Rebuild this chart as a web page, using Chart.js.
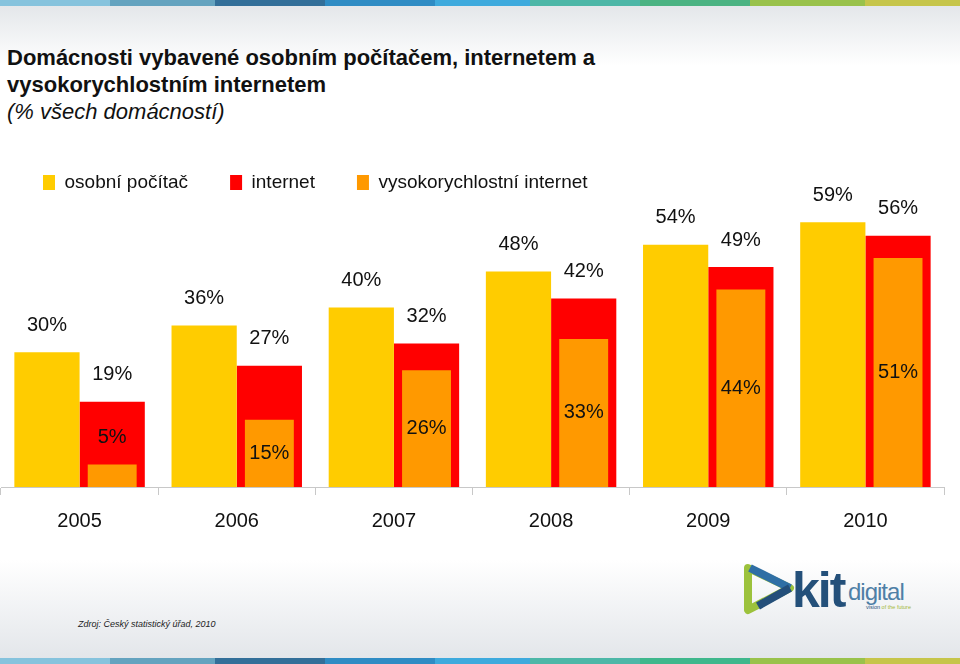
<!DOCTYPE html>
<html>
<head>
<meta charset="utf-8">
<script src="https://cdn.jsdelivr.net/npm/chart.js@4.4.0/dist/chart.umd.min.js"></script>
<style>
  html, body { margin: 0; padding: 0; }
  body { width: 960px; height: 664px; position: relative; overflow: hidden; background: #fff;
         font-family: "Liberation Sans", Arial, sans-serif; }
  .stripe { position: absolute; left: 0; width: 960px; height: 6px; display: flex; }
  .stripe div { height: 100%; }
  #topShade { position: absolute; left: 0; top: 6px; width: 960px; height: 60px;
              background: linear-gradient(#e4e7ea, #ffffff); }
  #bottomShade { position: absolute; left: 0; top: 560px; width: 960px; height: 98px;
                 background: linear-gradient(#ffffff, #e3e6ea); }
  #title { position: absolute; left: 7px; top: 44px; color: #111; font-size: 22px; line-height: 27px; }
  #title b { font-weight: bold; }
  #title i { font-style: italic; }
  #chartBox { position: absolute; left: 0; top: 131px; }
  #source { position: absolute; left: 78px; top: 619px; font-size: 9px; font-style: italic; color: #222; }
  #logo { position: absolute; left: 740px; top: 560px; }
</style>
</head>
<body>
<div id="topShade"></div>
<div id="bottomShade"></div>
<div class="stripe" style="top:0">
  <div style="width:110px;background:#86c3dd"></div>
  <div style="width:105px;background:#64a3bf"></div>
  <div style="width:110px;background:#336f99"></div>
  <div style="width:110px;background:#2f8cc4"></div>
  <div style="width:95px;background:#3eaadd"></div>
  <div style="width:110px;background:#4db7a7"></div>
  <div style="width:110px;background:#4bb382"></div>
  <div style="width:115px;background:#99c24b"></div>
  <div style="width:95px;background:#c6c54a"></div>
</div>
<div class="stripe" style="top:658px">
  <div style="width:110px;background:#86c3dd"></div>
  <div style="width:105px;background:#64a3bf"></div>
  <div style="width:110px;background:#336f99"></div>
  <div style="width:110px;background:#2f8cc4"></div>
  <div style="width:95px;background:#3eaadd"></div>
  <div style="width:110px;background:#4db7a7"></div>
  <div style="width:110px;background:#3fb78c"></div>
  <div style="width:115px;background:#99c24b"></div>
  <div style="width:95px;background:#c6c54a"></div>
</div>

<div id="title">
  <b>Domácnosti vybavené osobním počítačem, internetem a<br>vysokorychlostním internetem</b><br>
  <i>(% všech domácností)</i>
</div>

<div id="chartBox"><canvas id="chart" width="960" height="416"></canvas></div>

<div id="source">Zdroj: Český statistický úřad, 2010</div>

<svg id="logo" width="190" height="60" viewBox="0 0 190 60">
  <path d="M8 8 L50 28 L8 50 Z" fill="none" stroke="#9cc23c" stroke-width="8" stroke-linejoin="round"/>
  <path d="M10 8 L50 28" stroke="#2f6fa5" stroke-width="8"/>
  <path d="M50 28 L18 46" stroke="#244f7a" stroke-width="8"/>
  <text x="52" y="47" font-family="Liberation Sans, Arial, sans-serif" font-weight="bold" font-size="50" fill="#24507a" letter-spacing="-2">kit</text>
  <text x="108" y="40" font-family="Liberation Sans, Arial, sans-serif" font-size="24" fill="#4e7fa6" letter-spacing="-1">digital</text>
  <text x="126" y="49" font-family="Liberation Sans, Arial, sans-serif" font-size="5.5" fill="#24507a">vision <tspan fill="#a3b83a">of the future</tspan></text>
</svg>

<script>
const years = ["2005", "2006", "2007", "2008", "2009", "2010"];
const pcValues = [30, 36, 40, 48, 54, 59];
const internetValues = [19, 27, 32, 42, 49, 56];
const broadbandValues = [5, 15, 26, 33, 44, 51];

const seriesNames = ["osobní počítač", "internet", "vysokorychlostní internet"];
const colors = ["#ffcc00", "#ff0000", "#ff9900"];

const FONT = '"Liberation Sans", Arial, sans-serif';

// value labels above the bars, broadband ones inside when the bar is tall enough
const valueLabels = {
  id: "valueLabels",
  afterDatasetsDraw(chart) {
    const ctx = chart.ctx;
    ctx.save();
    ctx.font = "20px " + FONT;
    ctx.fillStyle = "#111";
    ctx.textAlign = "center";
    ctx.textBaseline = "middle";
    chart.data.datasets.forEach((ds, i) => {
      const meta = chart.getDatasetMeta(i);
      meta.data.forEach((bar, j) => {
        const h = bar.base - bar.y;
        let y = bar.y - 27;
        if (ds.labelInside && h > 45) y = bar.y + h / 2;
        ctx.fillText(ds.data[j] + "%", bar.x, y);
      });
    });
    ctx.restore();
  }
};

// dataset order: pc, broadband, internet -> broadband drawn over internet
const legendOrder = [0, 2, 1];

new Chart(document.getElementById("chart"), {
  type: "bar",
  data: {
    labels: years,
    datasets: [
      { label: seriesNames[0], data: pcValues, backgroundColor: colors[0], stack: "a",
        barPercentage: 1, categoryPercentage: 0.83 },
      { label: seriesNames[2], data: broadbandValues, backgroundColor: colors[2], stack: "b",
        barPercentage: 0.75, categoryPercentage: 0.83, labelInside: true },
      { label: seriesNames[1], data: internetValues, backgroundColor: colors[1], stack: "b",
        barPercentage: 1, categoryPercentage: 0.83 }
    ]
  },
  options: {
    responsive: false,
    animation: false,
    layout: { padding: { left: 1, right: 16, top: 0, bottom: 0 } },
    plugins: {
      legend: {
        position: "top",
        align: "start",
        labels: {
          boxWidth: 12,
          boxHeight: 15,
          padding: 42,
          color: "#111",
          font: { family: FONT, size: 19 },
          sort: (a, b) => legendOrder.indexOf(a.datasetIndex) - legendOrder.indexOf(b.datasetIndex)
        }
      },
      tooltip: { enabled: false }
    },
    scales: {
      x: {
        stacked: true,
        grid: { offset: true, drawOnChartArea: false, tickLength: 8, color: "#c8c8c8" },
        border: { color: "#c8c8c8" },
        ticks: { color: "#111", padding: 14, font: { family: FONT, size: 20 } }
      },
      y: {
        display: false,
        stacked: false,
        min: 0,
        max: 63.5
      }
    }
  },
  plugins: [valueLabels]
});
</script>
</body>
</html>
